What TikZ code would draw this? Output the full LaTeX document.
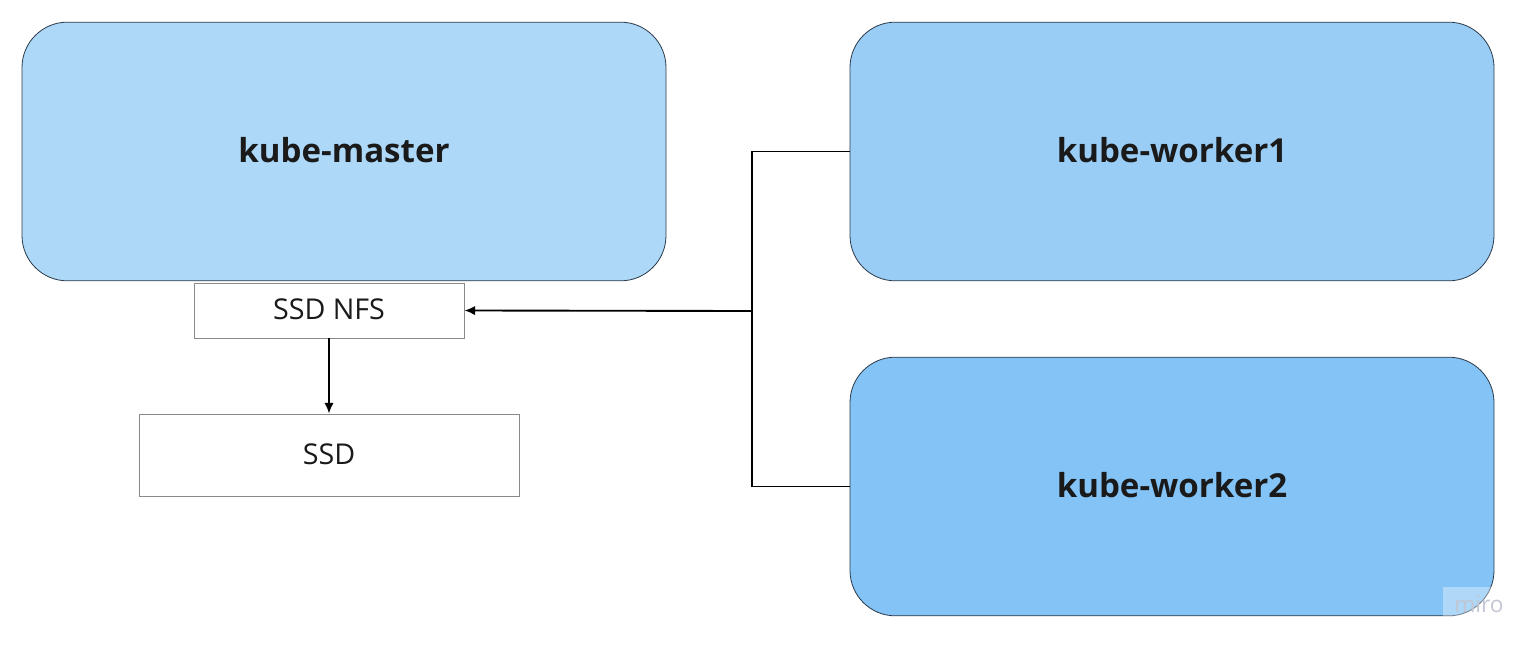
\documentclass[tikz,border=0pt]{standalone}
\usepackage{fontspec}
\setmainfont{Open Sans}
\usetikzlibrary{arrows.meta}
\definecolor{cmaster}{HTML}{ADD8F8}
\definecolor{cwone}{HTML}{99CDF5}
\definecolor{cwtwo}{HTML}{83C3F5}
\definecolor{cedge}{HTML}{2B3A4A}
\definecolor{cbox}{HTML}{8A8A8A}
\definecolor{ctext}{HTML}{1A1A1A}
\definecolor{cmiro}{HTML}{C2C6D4}
\begin{document}
\begin{tikzpicture}[x=0.75pt,y=-0.75pt,
  host/.style={draw=cedge,line width=0.6pt,rounded corners=34pt,minimum width=483pt,minimum height=194pt,inner sep=0pt,font=\fontsize{24.8}{28}\selectfont\bfseries,text=ctext},
  disk/.style={draw=cbox,fill=white,line width=0.6pt,inner sep=0pt,font=\fontsize{21.5}{24}\selectfont,text=ctext},
  link/.style={draw=black,line width=1.4pt},
  arr/.style={link,-{Latex[length=8pt,width=7pt]}}]
\useasboundingbox (0,0) rectangle (1539,649);
\node[host,fill=cmaster] (master) at (344,151.5) {\raisebox{2.2pt}{kube-master}};
\node[host,fill=cwone] (w1) at (1172,151.5) {\raisebox{2.2pt}{kube-worker1}};
\node[host,fill=cwtwo] (w2) at (1172,486.5) {\raisebox{2.2pt}{kube-worker2}};
\node[disk,minimum width=202.5pt,minimum height=41.25pt] (nfs) at (329,310.5) {\raisebox{1.5pt}{SSD NFS}};
\node[disk,minimum width=285pt,minimum height=61.5pt] (ssd) at (329,455) {\raisebox{1.5pt}{SSD}};
\coordinate (j) at (752,311);
\draw[link] (w1.west) -| (j);
\draw[link] (w2.west) -| (j);
\draw[arr] (j) -- (nfs.east);
\draw[arr] (nfs.south) -- (ssd.north);
\fill[white,opacity=0.35] (1443,587) rectangle (1492,616);
\node[text=cmiro,font=\fontsize{17}{19}\selectfont,inner sep=0pt] (miro) at (1479,604) {miro};
\end{tikzpicture}
\end{document}
